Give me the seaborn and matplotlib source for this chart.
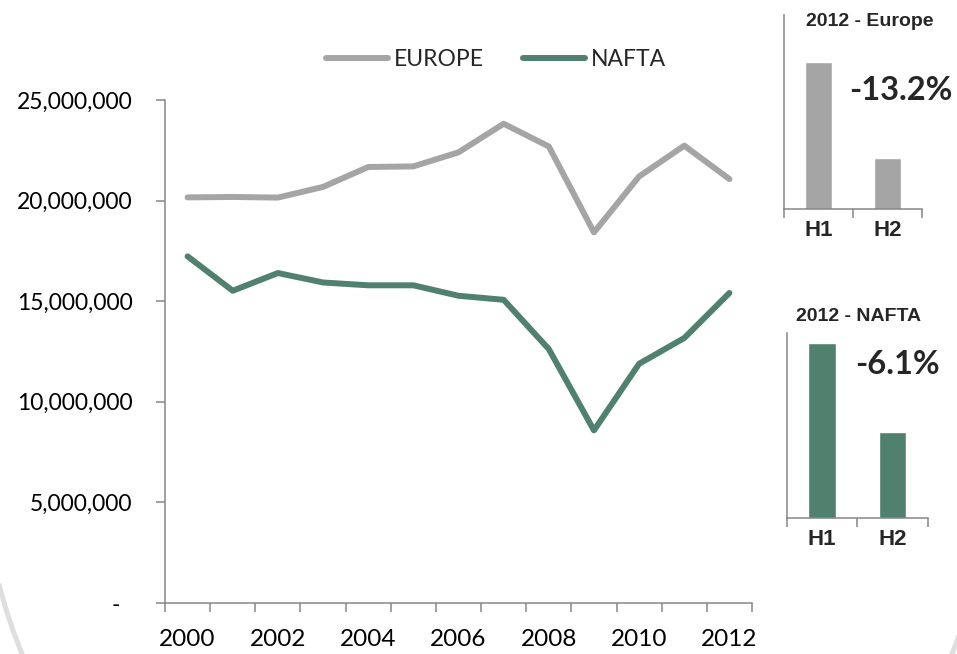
import matplotlib
matplotlib.use("Agg")
import matplotlib.pyplot as plt
from matplotlib.patches import Arc
from matplotlib.ticker import FuncFormatter, FixedLocator
import numpy as np
import pandas as pd
import seaborn as sns

# Annual volumes by region
years = [2000, 2001, 2002, 2003, 2004, 2005, 2006, 2007, 2008, 2009, 2010, 2011, 2012]
europe = [20.16e6, 20.18e6, 20.15e6, 20.68e6, 21.67e6, 21.70e6, 22.40e6,
          23.82e6, 22.69e6, 18.42e6, 21.20e6, 22.73e6, 21.07e6]
nafta = [17.23e6, 15.52e6, 16.40e6, 15.93e6, 15.79e6, 15.79e6, 15.27e6,
         15.07e6, 12.62e6, 8.58e6, 11.89e6, 13.17e6, 15.41e6]
series_names = ["EUROPE", "NAFTA"]

# 2012 split by half-year
halves = ["H1", "H2"]
europe_2012 = [11.28e6, 9.79e6]
nafta_2012 = [7.95e6, 7.465e6]

GREY = "#A5A5A5"
GREEN = "#4F816E"
AXIS = "#868686"
NARROW = ["Liberation Sans Narrow", "Liberation Sans"]

sns.set_theme(style="white")
plt.rcParams["font.family"] = ["Lato", "DejaVu Sans"]

W, H = 957, 654
fig = plt.figure(figsize=(W / 100, H / 100), dpi=100, facecolor="white")

# decorative ring behind the chart
bg = fig.add_axes([0, 0, 1, 1], zorder=-5)
bg.set_xlim(0, W)
bg.set_ylim(H, 0)
bg.axis("off")
bg.add_patch(Arc((487, 462), 2 * 503, 2 * 503, theta1=20, theta2=166,
                 color="#DEDEDE", lw=3.6))

# ---- main line chart ----
ax = fig.add_axes([165 / W, 1 - 603 / H, (752 - 165) / W, (603 - 100) / H])
ax.set_facecolor("none")
df = pd.DataFrame({
    "year": years * 2,
    "value": europe + nafta,
    "region": [series_names[0]] * len(years) + [series_names[1]] * len(years),
})
sns.lineplot(data=df, x="year", y="value", hue="region",
             palette={series_names[0]: GREY, series_names[1]: GREEN},
             lw=4.3, solid_capstyle="round", solid_joinstyle="round", ax=ax)
handles, labels = ax.get_legend_handles_labels()
ax.get_legend().remove()

ax.set_xlim(years[0] - 0.5, years[-1] + 0.5)
ax.set_ylim(0, 25e6)
ax.set_xlabel("")
ax.set_ylabel("")

ax.xaxis.set_major_locator(FixedLocator(years[::2]))
ax.xaxis.set_major_formatter(FuncFormatter(lambda v, p: f"{int(round(v))}"))
ax.xaxis.set_minor_locator(FixedLocator([y - 0.5 for y in years] + [years[-1] + 0.5]))
ax.tick_params(axis="x", which="major", length=0, pad=19, labelsize=17.5, colors="black")
ax.tick_params(axis="x", which="minor", bottom=True, length=6.5, width=1.1, color=AXIS)

ax.yaxis.set_major_locator(FixedLocator(np.arange(0, 25e6 + 1, 5e6)))
ax.yaxis.set_major_formatter(FuncFormatter(lambda v, p: "-  " if v == 0 else f"{v:,.0f}"))
ax.tick_params(axis="y", left=True, length=6.5, width=1.1, color=AXIS,
               pad=17, labelsize=16.5, labelcolor="black")

for s in ["top", "right"]:
    ax.spines[s].set_visible(False)
for s in ["left", "bottom"]:
    ax.spines[s].set_color(AXIS)
    ax.spines[s].set_linewidth(1.1)

fig.legend(handles, labels, ncol=2, loc="center",
           bbox_to_anchor=(496 / W, 1 - 60 / H), frameon=False,
           handlelength=2.7, handletextpad=0.25, columnspacing=1.7,
           fontsize=16.5)


# ---- 2012 half-year insets ----
def half_year_inset(rect, values, color, ylim, title, title_xy, pct_xy):
    a = fig.add_axes(rect)
    a.set_facecolor("none")
    sns.barplot(x=halves, y=values, color=color, saturation=1, width=0.39, ax=a)
    a.set_xlim(-0.5, 1.5)
    a.set_ylim(*ylim)
    a.set_xlabel("")
    a.set_ylabel("")
    a.set_yticks([])
    a.xaxis.set_minor_locator(FixedLocator([-0.5, 0.5, 1.5]))
    a.tick_params(axis="x", which="major", length=0, pad=8)
    a.tick_params(axis="x", which="minor", bottom=True, length=6.5, width=1.1, color=AXIS)
    for lab in a.get_xticklabels():
        lab.set_fontfamily(NARROW)
        lab.set_fontweight("bold")
        lab.set_fontsize(16)
    for s in ["top", "right"]:
        a.spines[s].set_visible(False)
    for s in ["left", "bottom"]:
        a.spines[s].set_color(AXIS)
        a.spines[s].set_linewidth(1.1)
    a.text(*title_xy, title, transform=a.transAxes, ha="center", va="center",
           fontsize=14, fontweight="bold", family=NARROW)
    pct = (values[1] - values[0]) / values[0] * 100
    a.text(*pct_xy, f"{pct:.1f}%", transform=a.transAxes, ha="center", va="center",
           fontsize=23.5, fontweight="bold")
    return a


half_year_inset([784.3 / W, 1 - 209 / H, 137.4 / W, 194 / H], europe_2012, GREY,
                (9e6, 12e6), "2012 - Europe", (0.62, 0.964), (0.848, 0.613))
half_year_inset([786.7 / W, 1 - 518.3 / H, 141 / W, 185 / H], nafta_2012, GREEN,
                (7e6, 8e6), "2012 - NAFTA", (0.507, 1.09), (0.782, 0.829))

fig.savefig("out.png", dpi=100, facecolor="white")
